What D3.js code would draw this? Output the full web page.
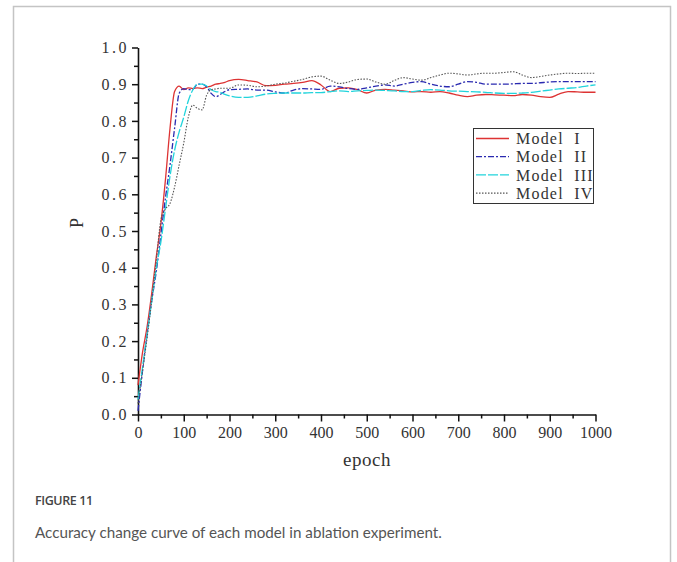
<!DOCTYPE html>
<html>
<head>
<meta charset="utf-8">
<script src="https://cdn.jsdelivr.net/npm/d3@7"></script>
<style>
  html, body { margin: 0; padding: 0; background: #fff; }
  svg { display: block; }
</style>
</head>
<body>
<div id="chart"></div>
<script>
// epochs sampled along the x axis
const epochs = [0,10,20,30,40,50,60,70,80,90,100,110,120,130,140,150,160,170,180,190,200,
  220,240,260,280,300,320,340,360,380,400,420,440,460,480,500,520,540,560,580,600,
  620,640,660,680,700,720,740,760,780,800,820,840,860,880,900,920,940,960,980,1000];

const modelI = [0.08,0.17,0.24,0.33,0.43,0.52,0.64,0.78,0.88,0.895,0.885,0.89,0.888,0.89,0.888,0.892,0.895,0.9,0.902,0.905,0.91,
  0.913,0.91,0.906,0.896,0.897,0.9,0.902,0.905,0.91,0.898,0.88,0.889,0.89,0.885,0.876,0.884,0.886,0.884,0.882,0.879,
  0.88,0.878,0.88,0.876,0.87,0.866,0.87,0.872,0.871,0.87,0.869,0.872,0.87,0.866,0.864,0.873,0.88,0.879,0.878,0.878];

const modelII = [0.01,0.12,0.22,0.31,0.39,0.49,0.59,0.68,0.78,0.875,0.888,0.885,0.886,0.9,0.9,0.893,0.875,0.866,0.872,0.88,0.885,
  0.886,0.887,0.884,0.884,0.879,0.876,0.884,0.888,0.887,0.886,0.895,0.893,0.888,0.886,0.89,0.895,0.898,0.895,0.9,0.905,
  0.907,0.9,0.895,0.893,0.9,0.907,0.905,0.9,0.9,0.9,0.901,0.902,0.902,0.904,0.906,0.907,0.907,0.907,0.907,0.907];

const modelIII = [0.04,0.13,0.22,0.31,0.4,0.47,0.56,0.65,0.72,0.77,0.81,0.855,0.885,0.9,0.9,0.895,0.885,0.88,0.878,0.872,0.868,
  0.864,0.864,0.868,0.873,0.875,0.876,0.876,0.876,0.877,0.877,0.88,0.882,0.88,0.882,0.883,0.884,0.883,0.882,0.88,0.88,
  0.883,0.885,0.884,0.882,0.881,0.88,0.879,0.878,0.876,0.875,0.875,0.876,0.878,0.881,0.884,0.887,0.889,0.891,0.895,0.898];

const modelIV = [0.03,0.12,0.21,0.31,0.42,0.53,0.56,0.575,0.62,0.68,0.74,0.81,0.843,0.834,0.83,0.87,0.885,0.887,0.889,0.889,0.889,
  0.898,0.897,0.893,0.895,0.9,0.903,0.908,0.913,0.92,0.922,0.911,0.902,0.906,0.913,0.914,0.906,0.9,0.91,0.918,0.914,
  0.911,0.918,0.925,0.93,0.928,0.925,0.928,0.93,0.93,0.932,0.934,0.925,0.918,0.921,0.925,0.928,0.93,0.929,0.93,0.93];

const seriesNames = ["Model I", "Model II", "Model III", "Model IV"];
const seriesValues = [modelI, modelII, modelIII, modelIV];
const seriesColors = ["#dd3333", "#2a2ab0", "#22d4dc", "#555555"];
const seriesDash = [null, "6,2,2,2", "10,2", "1.5,1.5"];

const xTicks = d3.range(0, 1001, 100);
const yTicks = d3.range(0, 1.01, 0.1);

const W = 677, H = 562;

const svg = d3.select("#chart").append("svg")
    .attr("width", W)
    .attr("height", H);

// card frame
svg.append("rect")
    .attr("x", 13.5).attr("y", 6.5)
    .attr("width", 657).attr("height", 600)
    .attr("fill", "none")
    .attr("stroke", "#c4c4c4")
    .attr("stroke-width", 1.5);

const x = d3.scaleLinear().domain([0, 1000]).range([138, 595.5]);
const y = d3.scaleLinear().domain([0, 1]).range([414.5, 47.5]);
const y0 = y(0);

const serif = "'Liberation Serif', 'DejaVu Serif', serif";

// minor ticks
svg.append("g")
    .attr("transform", `translate(0,${y0})`)
    .call(d3.axisBottom(x).tickValues(d3.range(50, 1000, 100)).tickSize(4).tickFormat("").tickSizeOuter(0))
    .call(g => g.select(".domain").remove())
    .selectAll("line").attr("stroke", "#111").attr("stroke-width", 1.5);

svg.append("g")
    .attr("transform", `translate(${x(0)},0)`)
    .call(d3.axisLeft(y).tickValues(d3.range(0.05, 1, 0.1)).tickSize(4).tickFormat("").tickSizeOuter(0))
    .call(g => g.select(".domain").remove())
    .selectAll("line").attr("stroke", "#111").attr("stroke-width", 1.5);

// major axes
const xAxis = svg.append("g")
    .attr("transform", `translate(0,${y0})`)
    .call(d3.axisBottom(x).tickValues(xTicks).tickSize(7).tickPadding(5).tickSizeOuter(0).tickFormat(d3.format("d")));

const yAxis = svg.append("g")
    .attr("transform", `translate(${x(0)},0)`)
    .call(d3.axisLeft(y).tickValues(yTicks).tickSize(6).tickPadding(3).tickSizeOuter(0).tickFormat(d3.format(".1f")));

[xAxis, yAxis].forEach(a => {
    a.select(".domain").attr("stroke", "#111").attr("stroke-width", 1.6);
    a.selectAll("line").attr("stroke", "#111").attr("stroke-width", 1.5);
    a.selectAll("text")
        .attr("fill", "#333")
        .style("font-family", serif)
        .style("font-size", "16px");
});
yAxis.selectAll("text").style("letter-spacing", "2.5px");

// axis titles
svg.append("text")
    .attr("x", 367).attr("y", 466)
    .attr("text-anchor", "middle")
    .attr("fill", "#333")
    .style("font-family", serif)
    .style("font-size", "19px")
    .style("letter-spacing", "0.5px")
    .text("epoch");

svg.append("text")
    .attr("transform", "translate(83,223) rotate(-90)")
    .attr("text-anchor", "middle")
    .attr("fill", "#333")
    .style("font-family", serif)
    .style("font-size", "18px")
    .text("P");

// curves
const line = d3.line()
    .x((d, i) => x(epochs[i]))
    .y(d => y(d))
    .curve(d3.curveMonotoneX);

seriesValues.forEach((vals, k) => {
    svg.append("path")
        .datum(vals)
        .attr("fill", "none")
        .attr("stroke", seriesColors[k])
        .attr("stroke-width", k === 3 ? 1.1 : 1.3)
        .attr("stroke-dasharray", seriesDash[k])
        .attr("d", line);
});

// legend
const legend = svg.append("g");
legend.append("rect")
    .attr("x", 473.5).attr("y", 128.5)
    .attr("width", 120).attr("height", 75)
    .attr("fill", "#fff")
    .attr("stroke", "#333")
    .attr("stroke-width", 1);

seriesNames.forEach((name, k) => {
    const ly = 138.5 + k * 18.2;
    legend.append("line")
        .attr("x1", 476).attr("x2", 509)
        .attr("y1", ly).attr("y2", ly)
        .attr("stroke", seriesColors[k])
        .attr("stroke-width", 1.3)
        .attr("stroke-dasharray", seriesDash[k]);
    legend.append("text")
        .attr("x", 516).attr("y", ly)
        .attr("dy", "0.35em")
        .attr("fill", "#333")
        .style("font-family", serif)
        .style("font-size", "16px")
        .style("letter-spacing", "1.2px")
        .style("white-space", "pre")
        .text(name.replace(" ", "  "));
});

// caption
svg.append("text")
    .attr("x", 35).attr("y", 505)
    .attr("fill", "#444")
    .style("font-family", "'Open Sans', sans-serif")
    .style("font-weight", 600)
    .style("font-size", "12.5px")
    .style("letter-spacing", "-0.4px")
    .text("FIGURE 11");

const cap = svg.append("text")
    .attr("x", 35).attr("y", 538)
    .attr("fill", "#555")
    .style("font-family", "Lato, 'Open Sans', sans-serif")
    .style("font-weight", 400)
    .style("font-size", "18px")
    .text("Accuracy change curve of each model in ablation experiment.");

// fit caption width to the reference span
const capW = cap.node().getComputedTextLength();
cap.style("font-size", (18 * 407 / capW).toFixed(2) + "px");
</script>
</body>
</html>
